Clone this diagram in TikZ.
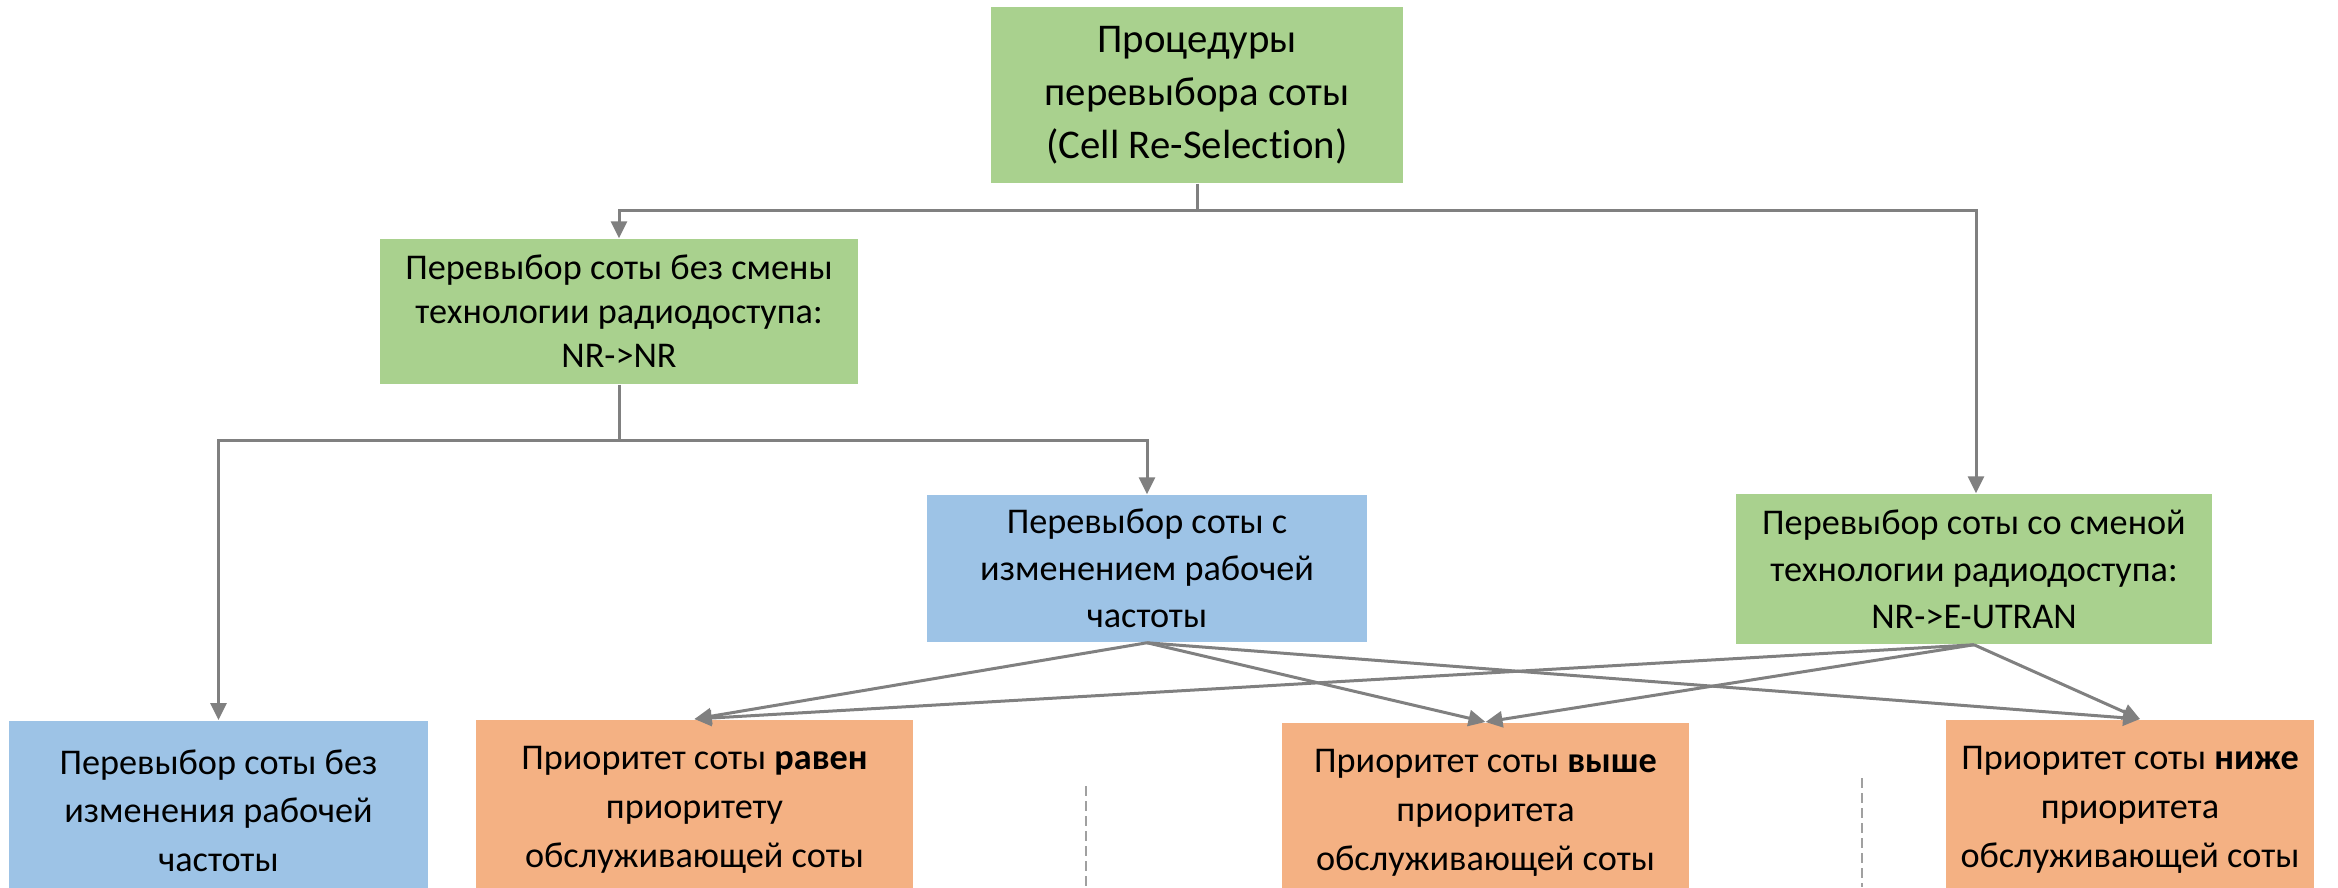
\documentclass[tikz,border=0pt]{standalone}
\usepackage{fontspec}
\setmainfont{Carlito}[Ligatures = NoCommon]
\usetikzlibrary{arrows.meta}
\definecolor{boxgreen}{HTML}{A9D18E}
\definecolor{boxblue}{HTML}{9DC3E6}
\definecolor{boxorange}{HTML}{F4B183}
\definecolor{linegray}{HTML}{808080}
\begin{document}
\begin{tikzpicture}[x = 0.01cm, y = -0.01cm,
	box/.style = {shape = rectangle, inner sep = 0, align = center, font = \fontsize{10.3}{13}\selectfont},
	greenbox/.style = {box, fill = boxgreen},
	bluebox/.style = {box, fill = boxblue},
	orangebox/.style = {box, fill = boxorange, anchor = north, minimum height = 1.8cm, font = \fontsize{10.3}{13.9}\selectfont},
	conn/.style = {draw = linegray, line width = 0.03cm, -{Triangle[length = 0.17cm, width = 0.16cm]}}]
	\useasboundingbox (0, 0) rectangle (2338, 887);
	% upper levels
	\node[greenbox, minimum width = 4.11cm, minimum height = 1.76cm, font = \fontsize{11.6}{15.1}\selectfont] (proc) at (1197, 95) {Процедуры\\перевыбора соты\\(Cell Re-Selection)};
	\node[greenbox, minimum width = 4.78cm, minimum height = 1.45cm, font = \fontsize{10.3}{12.5}\selectfont] (nrnr) at (619, 311.5) {Перевыбор соты без смены\\технологии радиодоступа:\\NR->NR};
	\node[bluebox, minimum width = 4.39cm, minimum height = 1.47cm, font = \fontsize{10.3}{13.4}\selectfont] (inter) at (1147, 568.5) {Перевыбор соты с\\изменением рабочей\\частоты};
	\node[greenbox, minimum width = 4.75cm, minimum height = 1.50cm, font = \fontsize{10.3}{13.4}\selectfont] (eutran) at (1974, 569) {Перевыбор соты со сменой\\технологии радиодоступа:\\NR->E-UTRAN};
	% bottom row
	\node[bluebox, anchor = north, minimum width = 4.19cm, minimum height = 1.8cm, font = \fontsize{10.3}{13.9}\selectfont] (intra) at (218.5, 720) {Перевыбор соты без\\изменения рабочей\\частоты};
	\node[orangebox, minimum width = 4.37cm] (equal) at (694.5, 719) {Приоритет соты \textbf{равен}\\приоритету\\обслуживающей соты};
	\node[orangebox, minimum width = 4.07cm] (higher) at (1485.5, 722) {Приоритет соты \textbf{выше}\\приоритета\\обслуживающей соты};
	\node[orangebox, minimum width = 3.68cm] (lower) at (2130, 719) {Приоритет соты \textbf{ниже}\\приоритета\\обслуживающей соты};
	% tree connectors
	\draw[conn] (proc.south) -- ++(0, 27) -| (nrnr.north);
	\draw[conn] (proc.south) -- ++(0, 27) -| ([xshift = 0.02cm]eutran.north);
	\draw[conn] (nrnr.south) -- ++(0, 56) -| (intra.north);
	\draw[conn] (nrnr.south) -- ++(0, 56) -| (inter.north);
	% priority arrows
	\foreach \src in {inter, eutran}{
		\draw[conn] (\src.south) -- (equal.north);
		\draw[conn] (\src.south) -- (higher.north);
		\draw[conn] (\src.south) -- ([xshift = 0.1cm]lower.north);}
	% separators
	\foreach \x/\y in {1086/786, 1862/778}{
		\draw[draw = linegray!75, line width = 0.013cm, dash pattern = on 0.1cm off 0.05cm] (\x, \y) -- (\x, 887);}
\end{tikzpicture}
\end{document}
